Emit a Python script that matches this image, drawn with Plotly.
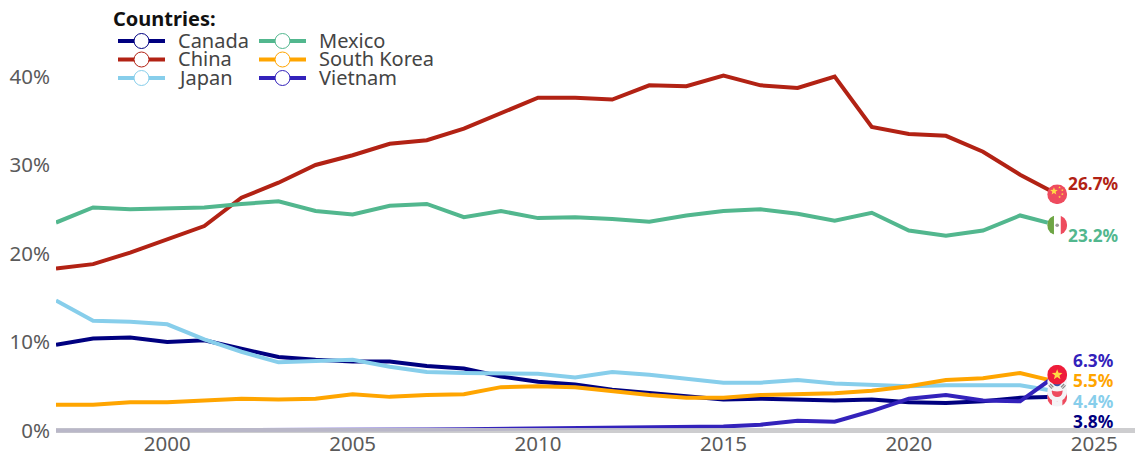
import base64
import math
import plotly.graph_objects as go

years = list(range(1997, 2025))
canada = [9.7,10.4,10.5,10.0,10.2,9.3,8.3,8.0,7.8,7.8,7.3,7.0,6.1,5.5,5.2,4.6,4.2,3.8,3.5,3.6,3.5,3.4,3.5,3.2,3.1,3.3,3.7,3.8]
china = [18.3,18.8,20.1,21.6,23.1,26.3,28.0,30.0,31.1,32.4,32.8,34.1,35.9,37.6,37.6,37.4,39.0,38.9,40.1,39.0,38.7,40.0,34.3,33.5,33.3,31.5,28.9,26.7]
japan = [14.7,12.4,12.3,12.0,10.3,8.9,7.7,7.9,8.0,7.2,6.6,6.5,6.5,6.4,6.0,6.6,6.3,5.9,5.4,5.4,5.7,5.3,5.2,5.0,5.1,5.1,5.1,4.4]
mexico = [23.5,25.2,25.0,25.1,25.2,25.6,25.9,24.8,24.4,25.4,25.6,24.1,24.8,24.0,24.1,23.9,23.6,24.3,24.8,25.0,24.5,23.7,24.6,22.6,22.0,22.6,24.3,23.2]
south_korea = [2.9,2.9,3.2,3.2,3.4,3.6,3.5,3.6,4.1,3.8,4.0,4.1,4.9,5.0,4.9,4.4,4.0,3.7,3.7,4.0,4.1,4.2,4.5,5.0,5.7,5.9,6.5,5.5]
vietnam = [0,0,0,0,0,0,0,0.02,0.05,0.1,0.1,0.15,0.2,0.3,0.35,0.4,0.4,0.45,0.45,0.65,1.1,1.0,2.2,3.6,4.0,3.4,3.3,6.3]

names = ["Canada", "China", "Japan", "Mexico", "South Korea", "Vietnam"]
series = [canada, china, japan, mexico, south_korea, vietnam]
colors = ["#000080", "#B22214", "#87CEEB", "#52B78E", "#FFA500", "#3322BB"]

FONT = "Noto Sans"
W, H = 1135, 457
L, B = 56, 23
PW, PH = W - L, H - B
PX_PER_YEAR = 37.08
PX_PER_PCT = 8.85
Y_PAD_PX = 3.5


def svg_uri(body):
    svg = ('<svg xmlns="http://www.w3.org/2000/svg" viewBox="0 0 100 100">'
           '<defs><clipPath id="c"><circle cx="50" cy="50" r="50"/></clipPath></defs>'
           '<g clip-path="url(#c)">' + body + '</g></svg>')
    return "data:image/svg+xml;base64," + base64.b64encode(svg.encode()).decode()


def star(cx, cy, r):
    pts = []
    for i in range(10):
        a = -math.pi / 2 + i * math.pi / 5
        rr = r if i % 2 == 0 else r * 0.42
        pts.append(f"{cx + rr * math.cos(a):.1f},{cy + rr * math.sin(a):.1f}")
    return f'<polygon fill="#FFDA44" points="{" ".join(pts)}"/>'


RED = "#EE4B5E"
flags = {
    "Canada": ('<rect width="100" height="100" fill="#F4F4F6"/>'
               f'<rect width="24" height="100" fill="{RED}"/><rect x="76" width="24" height="100" fill="{RED}"/>'
               f'<polygon fill="{RED}" points="50,25 58,42 68,38 63,58 52,56 52,72 48,72 48,56 37,58 32,38 42,42"/>'),
    "China": (f'<rect width="100" height="100" fill="{RED}"/>' + star(34, 35, 20) + star(62, 16, 7)
              + star(76, 30, 7) + star(76, 50, 7) + star(62, 64, 7)),
    "Japan": ('<rect width="100" height="100" fill="#F4F4F6"/>'
              f'<circle cx="50" cy="50" r="27" fill="{RED}"/>'),
    "Mexico": (f'<rect width="100" height="100" fill="#FFFFFF"/><rect width="34" height="100" fill="#6DA544"/>'
               f'<rect x="68" width="32" height="100" fill="{RED}"/>'
               '<circle cx="50" cy="50" r="9" fill="#999999"/>'),
    "South Korea": ('<rect width="100" height="100" fill="#F4F4F6"/>'
                    f'<path d="M28 50 A22 22 0 0 1 72 50 Z" fill="{RED}"/>'
                    '<path d="M28 50 A22 22 0 0 0 72 50 Z" fill="#3355AA"/>'
                    '<g stroke="#888888" stroke-width="6">'
                    '<path d="M8 68 L24 84 M15 61 L31 77"/><path d="M92 68 L76 84 M85 61 L69 77"/>'
                    '<path d="M8 32 L24 16 M15 39 L31 23"/><path d="M92 32 L76 16 M85 39 L69 23"/></g>'),
    "Vietnam": ('<rect width="100" height="100" fill="#EE1C3A"/>' + star(50, 50, 28)),
}

label_offsets = {
    "Canada": (14.5, -24.5), "China": (9.5, 11), "Japan": (14.5, -9.5),
    "Mexico": (9.5, -10), "South Korea": (14.5, 1.5), "Vietnam": (14.5, 14.5),
}

fig = go.Figure()
for name, vals, col in zip(names, series, colors):
    fig.add_trace(go.Scatter(x=years, y=vals, mode="lines", name=name,
                             line=dict(color=col, width=4), cliponaxis=False,
                             showlegend=False))

images = []
annotations = []
for name, vals, col in zip(names, series, colors):
    images.append(dict(source=svg_uri(flags[name]), xref="x", yref="y", x=years[-1], y=vals[-1],
                       sizex=20 / PX_PER_YEAR, sizey=20 / PX_PER_PCT, xanchor="center",
                       yanchor="middle", sizing="stretch", layer="above"))
    dx, dy = label_offsets[name]
    annotations.append(dict(x=years[-1], y=vals[-1], xref="x", yref="y", text=f"<b>{vals[-1]:.1f}%</b>",
                            showarrow=False, xanchor="left", yanchor="middle", xshift=dx, yshift=dy,
                            borderpad=0, font=dict(family=FONT, size=17.3, color=col)))


def px(x):
    return (x - L) / PW


def py(y):
    return 1 - y / PH


shapes = [dict(type="line", xref="paper", x0=0, x1=1, yref="y", y0=0, y1=0, layer="above",
               line=dict(color="rgba(200,200,202,0.9)", width=5))]

annotations.append(dict(x=px(112), y=py(18), xref="paper", yref="paper", text="<b>Countries:</b>",
                        showarrow=False, xanchor="left", yanchor="middle", align="left", borderpad=0,
                        font=dict(family=FONT, size=20, color="#111111")))
rows = [41, 59.5, 78]
cols = [(118, 165, 177), (259, 306, 318)]
for i, (name, col) in enumerate(zip(names, colors)):
    c = cols[i // 3]
    yy = rows[i % 3]
    shapes.append(dict(type="line", xref="paper", yref="paper", x0=px(c[0]), x1=px(c[1]), y0=py(yy), y1=py(yy),
                       line=dict(color=col, width=4)))
    cx = (c[0] + c[1]) / 2
    shapes.append(dict(type="circle", xref="paper", yref="paper", x0=px(cx - 7.5), x1=px(cx + 7.5),
                       y0=py(yy - 7.5), y1=py(yy + 7.5), fillcolor="white",
                       line=dict(color=col, width=1)))
    annotations.append(dict(x=px(c[2]), y=py(yy - 1), xref="paper", yref="paper", text=name, showarrow=False,
                            xanchor="left", yanchor="middle", align="left", borderpad=0,
                            font=dict(family=FONT, size=20, color="#444444")))

fig.update_layout(
    width=W, height=H, margin=dict(l=L, r=0, t=0, b=B), paper_bgcolor="white", plot_bgcolor="white",
    font=dict(family=FONT, size=20.5, color="#5A5A5A"), showlegend=False,
    images=images, annotations=annotations, shapes=shapes,
    xaxis=dict(range=[1997, 1997 + PW / PX_PER_YEAR], tickvals=[2000, 2005, 2010, 2015, 2020, 2025],
               ticktext=["2000", "2005", "2010", "2015", "2020", "2025"],
               showgrid=False, zeroline=False, showline=False, ticks="", ticklabelstandoff=-5),
    yaxis=dict(range=[-Y_PAD_PX / PX_PER_PCT, (PH - Y_PAD_PX) / PX_PER_PCT], tickvals=[0, 10, 20, 30, 40],
               ticktext=["0%", "10%", "20%", "30%", "40%"],
               showgrid=False, zeroline=False, showline=False, ticks="", ticklabelstandoff=5),
)

fig.write_html("out.html", config={"displayModeBar": False},
               post_script="document.body.style.margin='0';document.body.style.overflow='hidden';")
